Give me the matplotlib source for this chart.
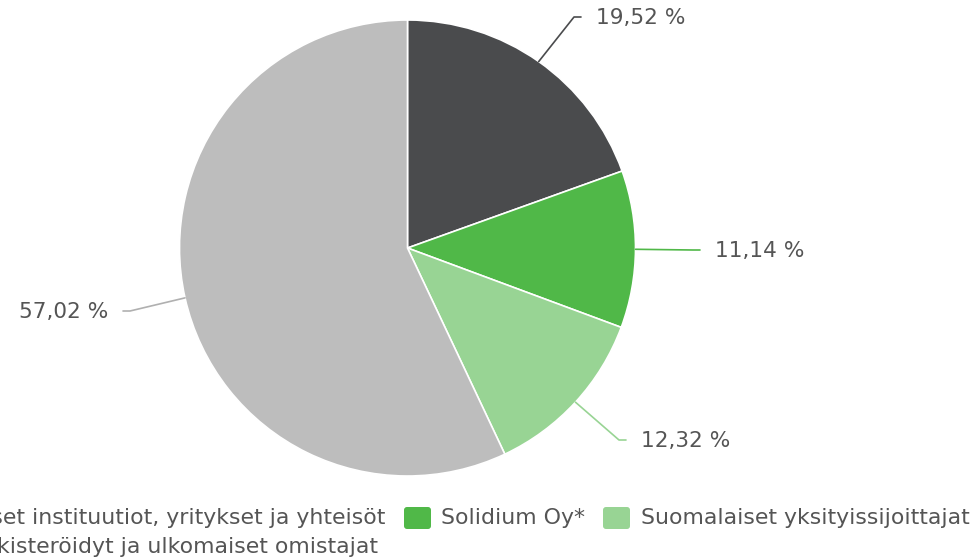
import numpy as np
import matplotlib
matplotlib.use("Agg")
import matplotlib.pyplot as plt
from matplotlib.patches import FancyBboxPatch

# data
labels = ["Suomalaiset instituutiot, yritykset ja yhteisöt", "Solidium Oy*",
          "Suomalaiset yksityissijoittajat", "Hallintarekisteröidyt ja ulkomaiset omistajat"]
shares = [19.52, 11.14, 12.32, 57.02]
colors = ["#4a4b4d", "#50b848", "#98d494", "#bdbdbd"]

W, H = 974, 560
cx, cy, r = 407.5, 248, 228

fig = plt.figure(figsize=(W / 100, H / 100), dpi=100)
ax = fig.add_axes([0, 0, 1, 1])

def Y(y):
    return H - y

ax.pie(shares, colors=colors, startangle=90, counterclock=False,
       center=(cx, Y(cy)), radius=r,
       wedgeprops=dict(edgecolor="white", linewidth=1.2))
ax.set_xlim(0, W)
ax.set_ylim(0, H)
ax.set_aspect("equal")
ax.axis("off")

# data labels with connectors
conn_end = [(581, 17), (700, 250), (626, 440), (123, 311)]
side = [1, 1, 1, -1]
cum = np.cumsum([0] + shares[:-1])
for i, v in enumerate(shares):
    th = np.deg2rad((cum[i] + v / 2) / 100 * 360)
    ex, ey = cx + r * np.sin(th), cy - r * np.cos(th)
    qx, qy = conn_end[i]
    s = side[i]
    px = [ex, qx - s * 7, qx]
    py = [Y(ey), Y(qy), Y(qy)]
    lc = colors[i] if i != 3 else "#b0b0b0"
    ax.plot(px, py, color=lc, lw=1.2, solid_capstyle="round")
    txt = f"{v:.2f} %".replace(".", ",")
    ax.text(qx + s * 15, Y(qy + 1), txt, ha="left" if s > 0 else "right",
            va="center", fontsize=15.6, color="#555555", family="DejaVu Sans")

# legend (overflows to the left like the original)
leg_font = dict(fontsize=15.8, color="#555555", va="center", family="DejaVu Sans")
sw_w, sw_h = 27, 22

def swatch(x, yc, c):
    ax.add_patch(FancyBboxPatch((x, Y(yc) - sw_h / 2), sw_w, sw_h,
                                boxstyle="round,pad=0,rounding_size=3",
                                fc=c, ec="none"))

row1, row2 = 518, 547
ax.text(385, Y(row1), labels[0], ha="right", **leg_font)
swatch(404, row1, colors[1])
ax.text(441, Y(row1), labels[1], ha="left", **leg_font)
swatch(603, row1, colors[2])
ax.text(641, Y(row1), labels[2], ha="left", **leg_font)
ax.text(378, Y(row2), labels[3], ha="right", **leg_font)

fig.savefig("out.png", dpi=100)
